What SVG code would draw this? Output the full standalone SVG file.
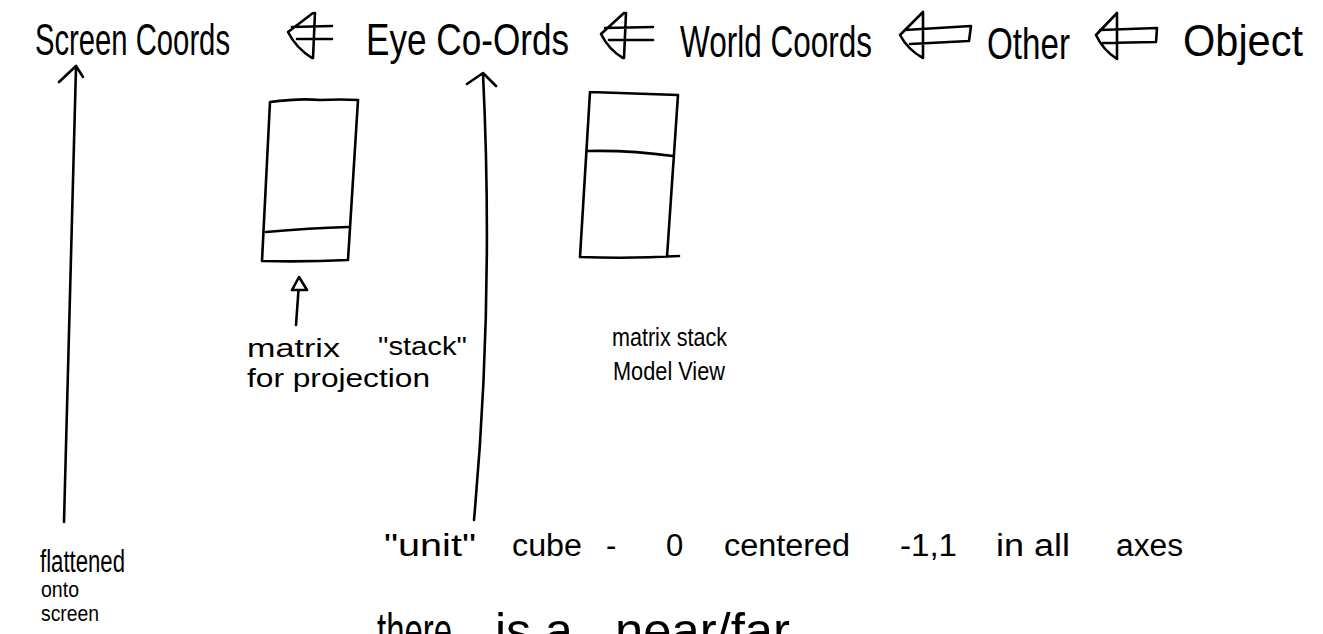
<svg xmlns="http://www.w3.org/2000/svg" width="1323" height="634" viewBox="0 0 1323 634">
<style>
text{font-family:"Liberation Sans",Arial,sans-serif;fill:#000}
.h{font-size:44px}
.m{font-size:26px}
.b{font-size:31px}
.s{font-size:22px}
.n{font-size:50px}
.ln{fill:none;stroke:#000;stroke-width:2.6;stroke-linecap:round;stroke-linejoin:round}
</style>
<rect width="1323" height="634" fill="#fff"/>
<g id="header">
<g id="screen-coords"><text class="h" x="35" y="55" textLength="195" lengthAdjust="spacingAndGlyphs">Screen Coords</text></g>
<g id="eye-coords"><text class="h" x="366" y="55" textLength="203" lengthAdjust="spacingAndGlyphs">Eye Co-Ords</text></g>
<g id="world-coords"><text class="h" x="680" y="57" textLength="192" lengthAdjust="spacingAndGlyphs">World Coords</text></g>
<g id="other"><text class="h" x="987" y="59" textLength="83" lengthAdjust="spacingAndGlyphs">Other</text></g>
<g id="object"><text class="h" x="1183" y="56" textLength="120" lengthAdjust="spacingAndGlyphs">Object</text></g>
</g>
<g id="connectors">
<path class="ln" d="M315,13 L313,58 M313,13 L288,32 Q296,48 312,58 M292,27 L332,26 M297,39 L332,39"/>
<path class="ln" d="M626,13 L624,58 M624,13 L601,34 Q609,50 623,58 M605,28 L653,27 M609,40 L653,40"/>
<path class="ln" d="M923,12 L923,58 M923,12 L900,35 Q908,50 923,58 M905,30 L971,26 L969,41 L910,44"/>
<path class="ln" d="M1117,13 L1117,59 M1117,13 L1096,35 Q1103,50 1117,59 M1100,30 L1157,28 L1156,42 L1103,43"/>
<path class="ln" d="M76,67 Q70,300 64,522 M59,82 L76,66 L83,77"/>
<path class="ln" d="M483,74 Q494,300 474,520 M467,84 L483,73 L496,86"/>
<path class="ln" d="M296,325 L299,283"/>
<path class="ln" d="M299,277 L292,290 L307,290 Z" style="fill:#fff"/>
</g>
<g id="projection-stack">
<path class="ln" d="M270,102 Q300,98 320,100 Q340,99 358,100 L348,260 Q305,262 262,261 Z"/>
<path class="ln" d="M266,232 Q310,228 348,227"/>
</g>
<g id="modelview-stack">
<path class="ln" d="M590,92 L678,95 L667,257 M590,92 L580,257 Q630,259 679,256"/>
<path class="ln" d="M587,151 Q630,150 673,156"/>
</g>
<g id="label-projection">
<text class="m" x="247" y="357" textLength="93" lengthAdjust="spacingAndGlyphs">matrix</text>
<text class="m" x="378" y="355" textLength="89" lengthAdjust="spacingAndGlyphs">"stack"</text>
<text class="m" x="247" y="387" textLength="183" lengthAdjust="spacingAndGlyphs">for projection</text>
</g>
<g id="label-modelview">
<text class="m" x="612" y="346" textLength="115" lengthAdjust="spacingAndGlyphs">matrix stack</text>
<text class="m" x="613" y="380" textLength="112" lengthAdjust="spacingAndGlyphs">Model View</text>
</g>
<g id="label-flattened">
<text class="b" x="40" y="572" textLength="85" lengthAdjust="spacingAndGlyphs">flattened</text>
<text class="s" x="41" y="597" textLength="38" lengthAdjust="spacingAndGlyphs">onto</text>
<text class="s" x="41" y="621" textLength="58" lengthAdjust="spacingAndGlyphs">screen</text>
</g>
<g id="label-unit-cube">
<text class="b" x="384" y="556" textLength="92" lengthAdjust="spacingAndGlyphs">"unit"</text>
<text class="b" x="512" y="556" textLength="70" lengthAdjust="spacingAndGlyphs">cube</text>
<text class="b" x="606" y="556">-</text>
<text class="b" x="666" y="556">0</text>
<text class="b" x="724" y="556" textLength="126" lengthAdjust="spacingAndGlyphs">centered</text>
<text class="b" x="900" y="556" textLength="57" lengthAdjust="spacingAndGlyphs">-1,1</text>
<text class="b" x="996" y="556" textLength="74" lengthAdjust="spacingAndGlyphs">in all</text>
<text class="b" x="1116" y="556" textLength="67" lengthAdjust="spacingAndGlyphs">axes</text>
</g>
<g id="label-near-far">
<text class="n" x="377" y="648" textLength="75" lengthAdjust="spacingAndGlyphs">there</text>
<text class="n" x="495" y="648">is</text>
<text class="n" x="545" y="648">a</text>
<text class="n" x="615" y="648" textLength="175" lengthAdjust="spacingAndGlyphs">near/far</text>
</g>
</svg>
